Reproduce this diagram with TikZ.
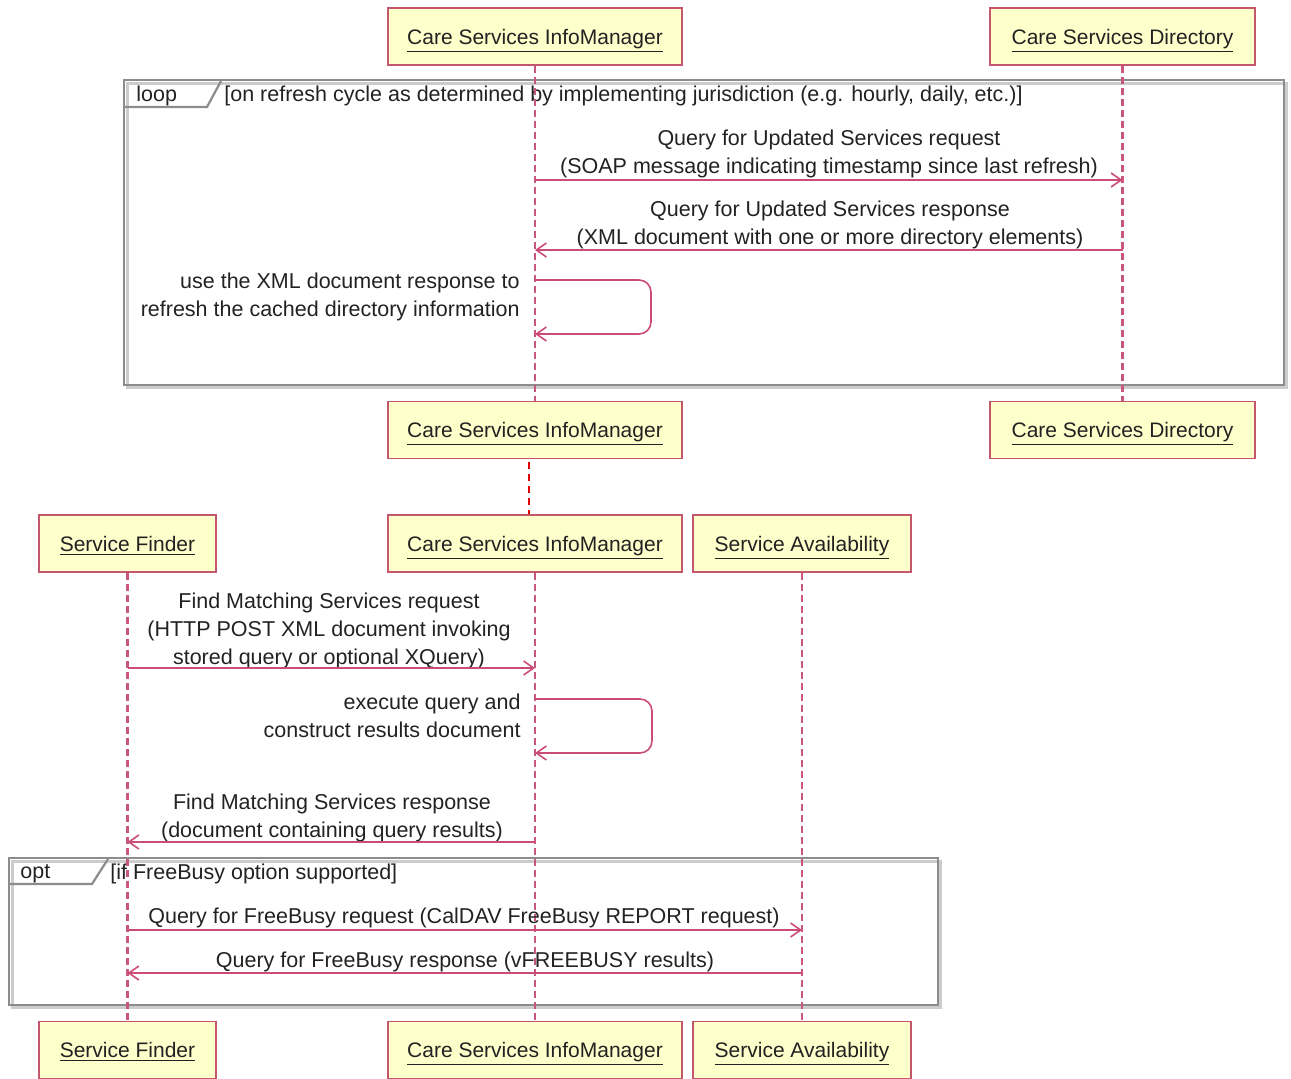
\documentclass[tikz,border=0pt]{standalone}
\usepackage{fontspec}
\setmainfont{Liberation Sans}
\usetikzlibrary{arrows.meta}
\definecolor{boxfill}{HTML}{FFFFCC}
\definecolor{boxline}{HTML}{C4566E}
\definecolor{life}{HTML}{C8567E}
\definecolor{msg}{HTML}{CC4C78}
\definecolor{frameline}{HTML}{8C8C8C}
\definecolor{frameshadow}{HTML}{CCCCCC}
\definecolor{txt}{HTML}{222222}
\definecolor{sepred}{HTML}{E00000}
\begin{document}
\begin{tikzpicture}[x=0.5pt,y=-0.5pt,
 font=\fontsize{10.75}{14}\selectfont, text=txt,
 actor/.style={draw=boxline, line width=0.9pt, fill=boxfill, minimum height=28.5pt, inner sep=0pt,
   font=\fontsize{10.5}{14}\selectfont, text depth=0pt},
 lifeline/.style={draw=life, line width=1.1pt, dash pattern=on 3.5pt off 2pt},
 msgline/.style={draw=msg, line width=0.8pt, -{Straight Barb[length=5pt,width=7pt]}},
 selfline/.style={msgline, rounded corners=6pt},
 lbl/.style={inner sep=0pt, align=center},
 frame/.style={draw=frameline, line width=1.1pt},
 shadowf/.style={draw=frameshadow, line width=1.5pt},
]
\useasboundingbox (0,0) rectangle (1291,1078);

% ---------- section 1 ----------
\draw[shadowf] (127,83) rectangle (1286,387);
\draw[frame] (124,80) rectangle (1284,385);
\draw[frame] (124,107) -- (207,107) -- (221,81);
\node[anchor=west, inner sep=0pt] (looplbl) at (136,96) {loop};
\node[anchor=west, inner sep=0pt] (loopguard) at (224,96) {[on refresh cycle as determined by implementing jurisdiction (e.g. hourly, daily, etc.)]};

\node[actor, minimum width=147pt] (im1) at (535,36.5) {\underline{Care Services InfoManager}};
\node[actor, minimum width=132.5pt] (dir1) at (1122.5,36.5) {\underline{Care Services Directory}};
\node[actor, minimum width=147pt] (im2) at (535,430) {\underline{Care Services InfoManager}};
\node[actor, minimum width=132.5pt] (dir2) at (1122.5,430) {\underline{Care Services Directory}};

\draw[lifeline] (im1.south) -- (im2.north);
\draw[lifeline] (dir1.south) -- (dir2.north);

\coordinate (a1) at (535,180); \coordinate (b1) at (1122.5,180);
\coordinate (a2) at (535,250); \coordinate (b2) at (1122.5,250);
\coordinate (s1) at (535,280); \coordinate (s1e) at (535,334);

\node[lbl] (m1) at (829,154) {Query for Updated Services request\\(SOAP message indicating timestamp since last refresh)};
\draw[msgline] (a1) -- (b1);
\node[lbl] (m2) at (830,225) {Query for Updated Services response\\(XML document with one or more directory elements)};
\draw[msgline] (b2) -- (a2);
\node[lbl, align=right, anchor=east] (m3) at (520,297) {use the XML document response to\\refresh the cached directory information};
\draw[selfline] (s1) -- (651,280) -- (651,334) -- (s1e);

% separator
\coordinate (sepb) at (529,515);
\draw[draw=sepred, line width=1pt, dash pattern=on 3.5pt off 2.5pt] (529,462) -- (sepb);

% ---------- section 2 ----------
\draw[shadowf] (12,861) rectangle (940,1007);
\draw[frame] (9,858) rectangle (938,1005);
\draw[frame] (9,884) -- (92,884) -- (108,859);
\node[anchor=west, inner sep=0pt] (optlbl) at (20,874) {opt};
\node[anchor=west, inner sep=0pt] (optguard) at (110,874) {[if FreeBusy option supported]};

\node[actor, minimum width=88.5pt] (sf1) at (127.5,543.5) {\underline{Service Finder}};
\node[actor, minimum width=147pt] (im3) at (535,543.5) {\underline{Care Services InfoManager}};
\node[actor, minimum width=109pt] (sa1) at (802,543.5) {\underline{Service Availability}};
\node[actor, minimum width=88.5pt] (sf2) at (127.5,1050) {\underline{Service Finder}};
\node[actor, minimum width=147pt] (im4) at (535,1050) {\underline{Care Services InfoManager}};
\node[actor, minimum width=109pt] (sa2) at (802,1050) {\underline{Service Availability}};

\draw[lifeline] (sf1.south) -- (sf2.north);
\draw[lifeline] (im3.south) -- (im4.north);
\draw[lifeline] (sa1.south) -- (sa2.north);

\coordinate (p1) at (127.5,668); \coordinate (q1) at (535,668);
\coordinate (s2) at (535,699); \coordinate (s2e) at (535,753);
\coordinate (p2) at (127.5,842); \coordinate (q2) at (535,842);
\coordinate (p3) at (127.5,930); \coordinate (r3) at (802,930);
\coordinate (p4) at (127.5,973); \coordinate (r4) at (802,973);

\node[lbl] (n1) at (329,631) {Find Matching Services request\\(HTTP POST XML document invoking\\stored query or optional XQuery)};
\draw[msgline] (p1) -- (q1);
\node[lbl, align=right, anchor=east] (n2) at (521,716) {execute query and\\construct results document};
\draw[selfline] (s2) -- (652,699) -- (652,753) -- (s2e);
\node[lbl] (n3) at (332,818) {Find Matching Services response\\(document containing query results)};
\draw[msgline] (q2) -- (p2);
\node[lbl] (n4) at (464,918) {Query for FreeBusy request (CalDAV FreeBusy REPORT request)};
\draw[msgline] (p3) -- (r3);
\node[lbl] (n5) at (465,962) {Query for FreeBusy response (vFREEBUSY results)};
\draw[msgline] (r4) -- (p4);
\end{tikzpicture}
\end{document}
